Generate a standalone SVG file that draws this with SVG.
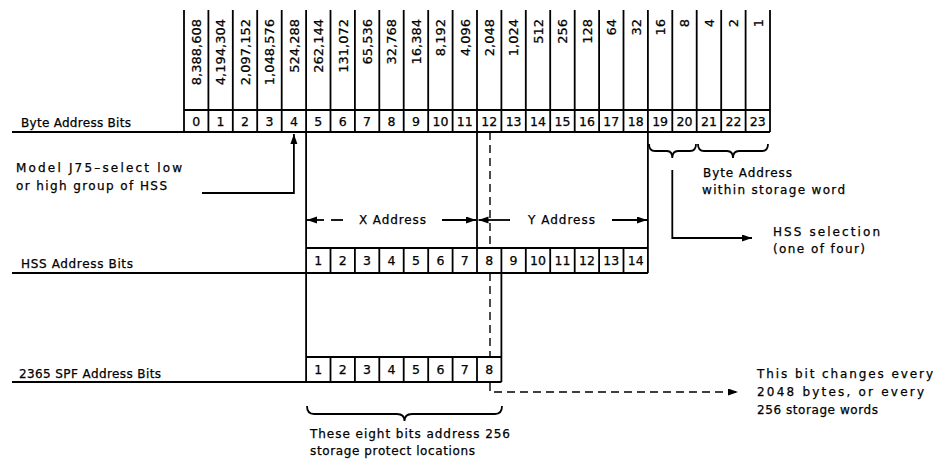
<svg xmlns="http://www.w3.org/2000/svg" width="938" height="465" viewBox="0 0 938 465">
<style>
  .ln { stroke: #000; stroke-width: 1.8; fill: none; }
  .dash { stroke: #000; stroke-width: 1.4; fill: none; stroke-dasharray: 8 5; }
  .lbl { font-family: "DejaVu Sans", "Liberation Sans", sans-serif; font-size: 12px; fill: #000; stroke: #000; stroke-width: 0.25; }
  .num { font-family: "DejaVu Sans", "Liberation Sans", sans-serif; font-size: 12.5px; fill: #000; stroke: #000; stroke-width: 0.25; text-anchor: middle; }
  .val { font-family: "DejaVu Sans", "Liberation Sans", sans-serif; font-size: 13px; fill: #000; stroke: #000; stroke-width: 0.25; text-anchor: end; }
</style>
<defs>
  <marker id="arr" markerUnits="userSpaceOnUse" markerWidth="11" markerHeight="8" refX="10" refY="3.5" orient="auto">
    <path d="M0,0 L10,3.5 L0,7 z" fill="#000"/>
  </marker>
</defs>
<rect width="938" height="465" fill="#fff"/>

<g id="byte-row">
  <text class="lbl" x="21" y="127" textLength="110" lengthAdjust="spacing">Byte Address Bits</text>
  <path class="ln" d="M12,132 H770 M184,110 H770"/>
  <path class="ln" d="M184,10 V132 M208.4,10 V132 M232.8,10 V132 M257.2,10 V132 M281.7,10 V132 M306.1,10 V132 M330.5,10 V132 M354.9,10 V132 M379.3,10 V132 M403.7,10 V132 M428.2,10 V132 M452.6,10 V132 M477,10 V132 M501.4,10 V132 M525.8,10 V132 M550.2,10 V132 M574.7,10 V132 M599.1,10 V132 M623.5,10 V132 M647.9,10 V132 M672.3,10 V132 M696.7,10 V132 M721.2,10 V132 M745.6,10 V132 M770,10 V132"/>
  <g>
    <text class="val" transform="translate(201,19) rotate(-90)">8,388,608</text>
    <text class="val" transform="translate(225.4,19) rotate(-90)">4,194,304</text>
    <text class="val" transform="translate(249.8,19) rotate(-90)">2,097,152</text>
    <text class="val" transform="translate(274.3,19) rotate(-90)">1,048,576</text>
    <text class="val" transform="translate(298.7,19) rotate(-90)">524,288</text>
    <text class="val" transform="translate(323.1,19) rotate(-90)">262,144</text>
    <text class="val" transform="translate(347.5,19) rotate(-90)">131,072</text>
    <text class="val" transform="translate(371.9,19) rotate(-90)">65,536</text>
    <text class="val" transform="translate(396.3,19) rotate(-90)">32,768</text>
    <text class="val" transform="translate(420.8,19) rotate(-90)">16,384</text>
    <text class="val" transform="translate(445.2,19) rotate(-90)">8,192</text>
    <text class="val" transform="translate(469.6,19) rotate(-90)">4,096</text>
    <text class="val" transform="translate(494,19) rotate(-90)">2,048</text>
    <text class="val" transform="translate(518.4,19) rotate(-90)">1,024</text>
    <text class="val" transform="translate(542.8,19) rotate(-90)">512</text>
    <text class="val" transform="translate(567.3,19) rotate(-90)">256</text>
    <text class="val" transform="translate(591.7,19) rotate(-90)">128</text>
    <text class="val" transform="translate(616.1,19) rotate(-90)">64</text>
    <text class="val" transform="translate(640.5,19) rotate(-90)">32</text>
    <text class="val" transform="translate(664.9,19) rotate(-90)">16</text>
    <text class="val" transform="translate(689.3,19) rotate(-90)">8</text>
    <text class="val" transform="translate(713.8,19) rotate(-90)">4</text>
    <text class="val" transform="translate(738.2,19) rotate(-90)">2</text>
    <text class="val" transform="translate(762.6,19) rotate(-90)">1</text>
  </g>
  <g>
    <text class="num" x="196.2" y="125.5">0</text>
    <text class="num" x="220.6" y="125.5">1</text>
    <text class="num" x="245" y="125.5">2</text>
    <text class="num" x="269.5" y="125.5">3</text>
    <text class="num" x="293.9" y="125.5">4</text>
    <text class="num" x="318.3" y="125.5">5</text>
    <text class="num" x="342.7" y="125.5">6</text>
    <text class="num" x="367.1" y="125.5">7</text>
    <text class="num" x="391.5" y="125.5">8</text>
    <text class="num" x="416" y="125.5">9</text>
    <text class="num" x="440.4" y="125.5">10</text>
    <text class="num" x="464.8" y="125.5">11</text>
    <text class="num" x="489.2" y="125.5">12</text>
    <text class="num" x="513.6" y="125.5">13</text>
    <text class="num" x="538" y="125.5">14</text>
    <text class="num" x="562.5" y="125.5">15</text>
    <text class="num" x="586.9" y="125.5">16</text>
    <text class="num" x="611.3" y="125.5">17</text>
    <text class="num" x="635.7" y="125.5">18</text>
    <text class="num" x="660.1" y="125.5">19</text>
    <text class="num" x="684.5" y="125.5">20</text>
    <text class="num" x="709" y="125.5">21</text>
    <text class="num" x="733.4" y="125.5">22</text>
    <text class="num" x="757.8" y="125.5">23</text>
  </g>
</g>

<g id="hss-row">
  <text class="lbl" x="21" y="268" textLength="112" lengthAdjust="spacing">HSS Address Bits</text>
  <path class="ln" d="M12,273 H647.9 M306.1,248 H647.9"/>
  <path class="ln" d="M306.1,248 V273 M330.5,248 V273 M354.9,248 V273 M379.3,248 V273 M403.7,248 V273 M428.2,248 V273 M452.6,248 V273 M477,248 V273 M501.4,248 V273 M525.8,248 V273 M550.2,248 V273 M574.7,248 V273 M599.1,248 V273 M623.5,248 V273 M647.9,248 V273"/>
  <text class="num" x="318.3" y="265">1</text>
  <text class="num" x="342.7" y="265">2</text>
  <text class="num" x="367.1" y="265">3</text>
  <text class="num" x="391.5" y="265">4</text>
  <text class="num" x="416" y="265">5</text>
  <text class="num" x="440.4" y="265">6</text>
  <text class="num" x="464.8" y="265">7</text>
  <text class="num" x="489.2" y="265">8</text>
  <text class="num" x="513.6" y="265">9</text>
  <text class="num" x="538" y="265">10</text>
  <text class="num" x="562.5" y="265">11</text>
  <text class="num" x="586.9" y="265">12</text>
  <text class="num" x="611.3" y="265">13</text>
  <text class="num" x="635.7" y="265">14</text>
</g>

<g id="spf-row">
  <text class="lbl" x="19" y="378" textLength="142" lengthAdjust="spacing">2365 SPF Address Bits</text>
  <path class="ln" d="M12,382 H501.4 M306.1,357 H501.4"/>
  <path class="ln" d="M306.1,357 V382 M330.5,357 V382 M354.9,357 V382 M379.3,357 V382 M403.7,357 V382 M428.2,357 V382 M452.6,357 V382 M477,357 V382 M501.4,357 V382"/>
  <text class="num" x="318.3" y="374">1</text>
  <text class="num" x="342.7" y="374">2</text>
  <text class="num" x="367.1" y="374">3</text>
  <text class="num" x="391.5" y="374">4</text>
  <text class="num" x="416" y="374">5</text>
  <text class="num" x="440.4" y="374">6</text>
  <text class="num" x="464.8" y="374">7</text>
  <text class="num" x="489.2" y="374">8</text>
</g>

<g id="model-note">
  <text class="lbl" x="16" y="172" textLength="166" lengthAdjust="spacing">Model J75–select low</text>
  <text class="lbl" x="16" y="190" textLength="151" lengthAdjust="spacing">or high group of HSS</text>
</g>

<g id="xy-address">
  <text class="lbl" x="359" y="224" textLength="67" lengthAdjust="spacing">X Address</text>
  <text class="lbl" x="528" y="224" textLength="67" lengthAdjust="spacing">Y Address</text>
</g>

<g id="byte-within-word">
  <path class="ln" d="M649,144 Q649,151 655,151 L667,151 Q672.3,151 672.3,158 Q672.3,151 678,151 L690,151 Q696,151 696,144"/>
  <path class="ln" d="M698,144 Q698,151 704,151 L727,151 Q733,151 733,158 Q733,151 739,151 L762,151 Q768,151 768,144"/>
  <text class="lbl" x="703" y="177" textLength="89" lengthAdjust="spacing">Byte Address</text>
  <text class="lbl" x="702" y="194" textLength="143" lengthAdjust="spacing">within storage word</text>
</g>

<g id="hss-selection">
  <text class="lbl" x="773" y="236" textLength="107" lengthAdjust="spacing">HSS selection</text>
  <text class="lbl" x="773" y="253" textLength="92" lengthAdjust="spacing">(one of four)</text>
</g>

<g id="spf-brace">
  <path class="ln" d="M307,406 Q307,414 314,414 L397,414 Q404.5,414 404.5,421 Q404.5,414 412,414 L495,414 Q502,414 502,406"/>
  <text class="lbl" x="310" y="438" textLength="200" lengthAdjust="spacing">These eight bits address 256</text>
  <text class="lbl" x="310" y="455" textLength="165" lengthAdjust="spacing">storage protect locations</text>
</g>

<g id="bit-change-note">
  <text class="lbl" x="757" y="378" textLength="176" lengthAdjust="spacing">This bit changes every</text>
  <text class="lbl" x="757" y="396" textLength="167" lengthAdjust="spacing">2048 bytes, or every</text>
  <text class="lbl" x="757" y="414" textLength="121" lengthAdjust="spacing">256 storage words</text>
</g>

<g id="connectors">
  <path class="ln" d="M306.1,132 V248 M477,132 V248 M647.9,132 V248 M306.1,273 V357 M501.4,273 V357"/>
  <path class="dash" d="M490,132 V248 M490,273 V357"/>
  <path class="dash" d="M490,383 V392 H738" marker-end="url(#arr)"/>
  <path class="ln" d="M202,193 H293.9 V134" marker-end="url(#arr)"/>
  <path class="ln" d="M324,220 H307" marker-end="url(#arr)"/>
  <path class="ln" d="M331,220 H343"/>
  <path class="ln" d="M442,220 H476" marker-end="url(#arr)"/>
  <path class="ln" d="M510,220 H478.5" marker-end="url(#arr)"/>
  <path class="ln" d="M612,220 H647" marker-end="url(#arr)"/>
  <path class="ln" d="M672.3,170 V238 H752" marker-end="url(#arr)"/>
</g>
</svg>
